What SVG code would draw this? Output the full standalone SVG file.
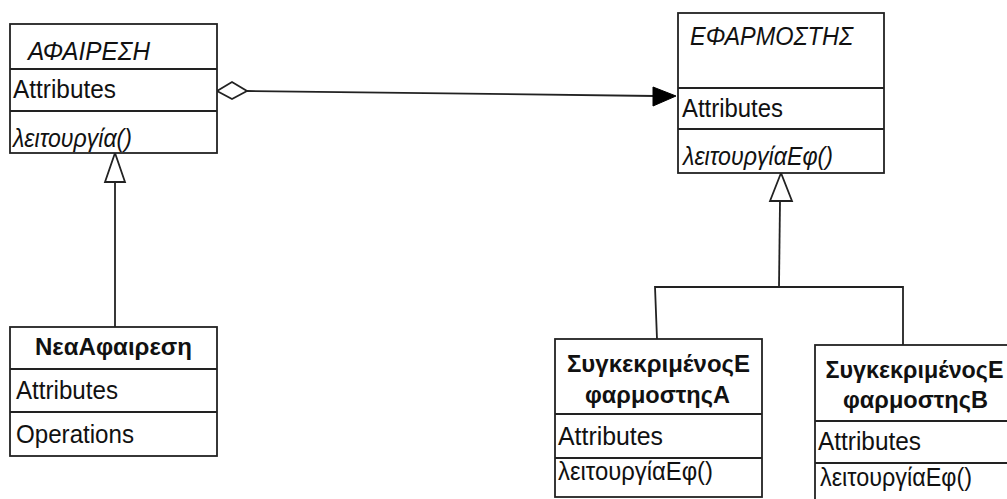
<svg xmlns="http://www.w3.org/2000/svg" width="1007" height="499" viewBox="0 0 1007 499">
<style>
.box{fill:#fff;stroke:#222;stroke-width:1.8}
.sep{stroke:#222;stroke-width:1.8}
.t{font-family:"Liberation Sans",Arial,sans-serif;font-size:26px;fill:#111}
.i{font-style:italic}
.b{font-weight:bold;text-anchor:middle;font-size:24px}
.ln{fill:none;stroke:#222;stroke-width:1.8}
.open{fill:#fff;stroke:#222;stroke-width:1.8}
.fill{fill:#000;stroke:#000;stroke-width:1}
</style>
<rect width="1007" height="499" fill="#fff"/>
<g id="connectors">
  <polyline class="ln" points="247,91 655,96"/>
  <polygon class="open" points="217,91 232,82 247,91 232,99"/>
  <polygon class="fill" points="676,96 653,87 653,106"/>
  <line class="ln" x1="115" y1="182" x2="115" y2="327"/>
  <polygon class="open" points="115,153 105,182 125,182"/>
  <polyline class="ln" points="780,201 779,287"/>
  <polyline class="ln" points="657,339 655,287 903,287 903,345"/>
  <polygon class="open" points="781,173 770,201 792,201"/>
</g>
<g id="afairesi">
  <rect class="box" x="10" y="24" width="207" height="129"/>
  <line class="sep" x1="10" y1="69" x2="217" y2="69"/>
  <line class="sep" x1="10" y1="111" x2="217" y2="111"/>
  <text class="t i" x="28" y="60" textLength="122" lengthAdjust="spacingAndGlyphs">ΑΦΑΙΡΕΣΗ</text>
  <text class="t" x="13" y="98" textLength="103" lengthAdjust="spacingAndGlyphs">Attributes</text>
  <text class="t i" x="13" y="147" textLength="119" lengthAdjust="spacingAndGlyphs">λειτουργία()</text>
</g>
<g id="efarmostis">
  <rect class="box" x="678" y="13" width="206" height="160"/>
  <line class="sep" x1="678" y1="88" x2="884" y2="88"/>
  <line class="sep" x1="678" y1="129" x2="884" y2="129"/>
  <text class="t i" x="690" y="45" textLength="163" lengthAdjust="spacingAndGlyphs">ΕΦΑΡΜΟΣΤΗΣ</text>
  <text class="t" x="682" y="117" textLength="101" lengthAdjust="spacingAndGlyphs">Attributes</text>
  <text class="t i" x="683" y="165" textLength="150" lengthAdjust="spacingAndGlyphs">λειτουργίαΕφ()</text>
</g>
<g id="neaafairesi">
  <rect class="box" x="10" y="327" width="207" height="129"/>
  <line class="sep" x1="10" y1="369" x2="217" y2="369"/>
  <line class="sep" x1="10" y1="412" x2="217" y2="412"/>
  <text class="t b" x="113.5" y="355" textLength="157" lengthAdjust="spacingAndGlyphs">ΝεαΑφαιρεση</text>
  <text class="t" x="16" y="399" textLength="102" lengthAdjust="spacingAndGlyphs">Attributes</text>
  <text class="t" x="16" y="443" textLength="118" lengthAdjust="spacingAndGlyphs">Operations</text>
</g>
<g id="efarmostisA">
  <rect class="box" x="555" y="339" width="207" height="158"/>
  <line class="sep" x1="555" y1="414" x2="762" y2="414"/>
  <line class="sep" x1="555" y1="458" x2="762" y2="458"/>
  <text class="t b" x="658.5" y="372" textLength="183" lengthAdjust="spacingAndGlyphs">ΣυγκεκριμένοςΕ</text>
  <text class="t b" x="657.5" y="403" textLength="145" lengthAdjust="spacingAndGlyphs">φαρμοστηςA</text>
  <text class="t" x="558" y="445" textLength="105" lengthAdjust="spacingAndGlyphs">Attributes</text>
  <text class="t" x="558" y="480" textLength="155" lengthAdjust="spacingAndGlyphs">λειτουργίαΕφ()</text>
</g>
<g id="efarmostisB">
  <rect class="box" x="815" y="345" width="207" height="170"/>
  <line class="sep" x1="815" y1="421" x2="1022" y2="421"/>
  <line class="sep" x1="815" y1="463" x2="1022" y2="463"/>
  <text class="t b" x="914.5" y="378" textLength="178" lengthAdjust="spacingAndGlyphs">ΣυγκεκριμένοςΕ</text>
  <text class="t b" x="915.5" y="408" textLength="145" lengthAdjust="spacingAndGlyphs">φαρμοστηςB</text>
  <text class="t" x="818" y="450" textLength="103" lengthAdjust="spacingAndGlyphs">Attributes</text>
  <text class="t" x="820" y="486" textLength="152" lengthAdjust="spacingAndGlyphs">λειτουργίαΕφ()</text>
</g>
</svg>
